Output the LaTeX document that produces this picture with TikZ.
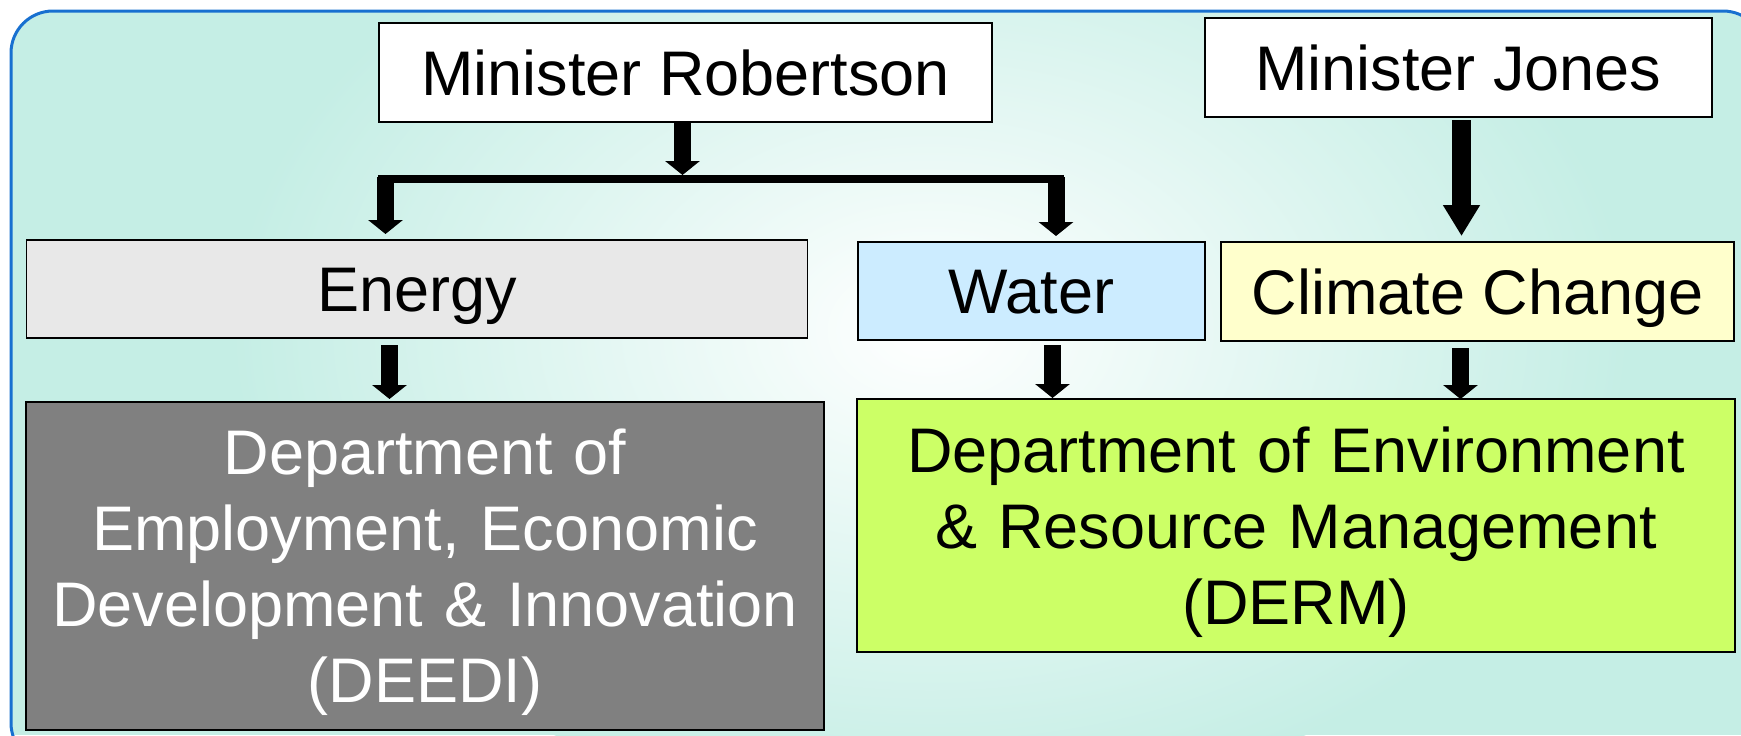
\documentclass[tikz,border=0pt]{standalone}
\usepackage{fontspec}
\setmainfont{Liberation Sans}
\usetikzlibrary{arrows.meta,calc}
\definecolor{bgteal}{RGB}{197,238,229}
\definecolor{bgblue}{RGB}{24,112,208}
\definecolor{energyfill}{RGB}{232,232,232}
\definecolor{waterfill}{RGB}{204,236,255}
\definecolor{climfill}{RGB}{255,255,204}
\definecolor{deedifill}{RGB}{128,128,128}
\definecolor{dermfill}{RGB}{204,255,102}
\begin{document}
\begin{tikzpicture}[x=0.5pt,y=-0.5pt,
 box/.style={draw=black, line width=0.8pt, inner sep=0pt, outer sep=0pt,
   font=\fontsize{31.5}{38}\selectfont, text height=22.5pt, text depth=0pt},
 blk/.style={line width=8.5pt, -{Triangle[width=17pt,length=7pt]}},
 blkbig/.style={line width=9.5pt, -{Triangle[width=17.5pt,length=15.5pt]}},
 barline/.style={line width=4pt},
 frame/.style={rounded corners=21pt},
]
\useasboundingbox (0,0) rectangle (1741,735);
% background panel
\begin{scope}
  \clip (0,0) rectangle (1741,735);
  \begin{scope}
    \clip[frame] (11,11) rectangle (1765,765);
    \fill[bgteal] (0,0) rectangle (1741,735);
    \shade[inner color=white, outer color=bgteal] (930,330) ellipse [x radius=700, y radius=480];
  \end{scope}
  \draw[bgblue, line width=1.5pt, frame] (11,11) rectangle (1765,765);
\end{scope}

% nodes
\node[box, fill=white, minimum width=306.5pt, minimum height=49.5pt] (rob) at (685.5,72.5) {Minister Robertson};
\node[box, fill=white, minimum width=253.5pt, minimum height=49.5pt] (jones) at (1458.5,67.5) {Minister Jones};
\node[box, fill=energyfill, minimum width=390.5pt, minimum height=49pt] (energy) at (417,289) {Energy};
\node[box, fill=waterfill, minimum width=173.5pt, minimum height=49pt] (water) at (1031.5,291) {Water};
\node[box, fill=climfill, minimum width=256.5pt, minimum height=49.5pt] (climate) at (1477.5,291.5) {Climate Change};
\node[box, fill=deedifill, text=white, text width=399pt, align=center, minimum height=164pt, text depth=114pt] (deedi) at (425,566)
  {Department of\\Employment, Economic\\Development \& Innovation\\(DEEDI)};
\node[box, fill=dermfill, text width=439pt, align=center, minimum height=126.5pt, text depth=76pt] (derm) at (1296,525.5)
  {Department of Environment\\\& Resource Management\\(DERM)};

% connector helper coordinates
\coordinate (barL) at (385.5,179);
\coordinate (barR) at (1056,179);
\coordinate (barM) at (682.5,179);
\coordinate (jx) at (1461.5,0);
\coordinate (ex) at (389.5,0);
\coordinate (wx) at (1052.5,0);
\coordinate (cx) at (1460.5,0);

% connectors
\draw[blk] ($(rob.south -| barM)+(0,1)$) -- ($(barM)+(0,-4)$);
\draw[barline] ($(barL)+(-7.5,0)$) -- ($(barR)+(8,0)$);
\draw[blk] ($(barL)+(0,-2)$) -- ($(barL |- energy.north)+(0,-6)$);
\draw[blk] ($(barR)+(0,-2)$) -- ($(barR |- water.north)+(0,-6)$);
\draw[blkbig] ($(jx |- jones.south)+(0,3)$) -- ($(jx |- climate.north)+(0,-6)$);
\draw[blk] ($(ex |- energy.south)+(0,7)$) -- ($(ex |- deedi.north)+(0,-3)$);
\draw[blk] ($(wx |- water.south)+(0,5)$) -- ($(wx |- derm.north)+(0,-1)$);
\draw[blk] ($(cx |- climate.south)+(0,7)$) -- ($(cx |- derm.north)+(0,0)$);
\end{tikzpicture}
\end{document}
